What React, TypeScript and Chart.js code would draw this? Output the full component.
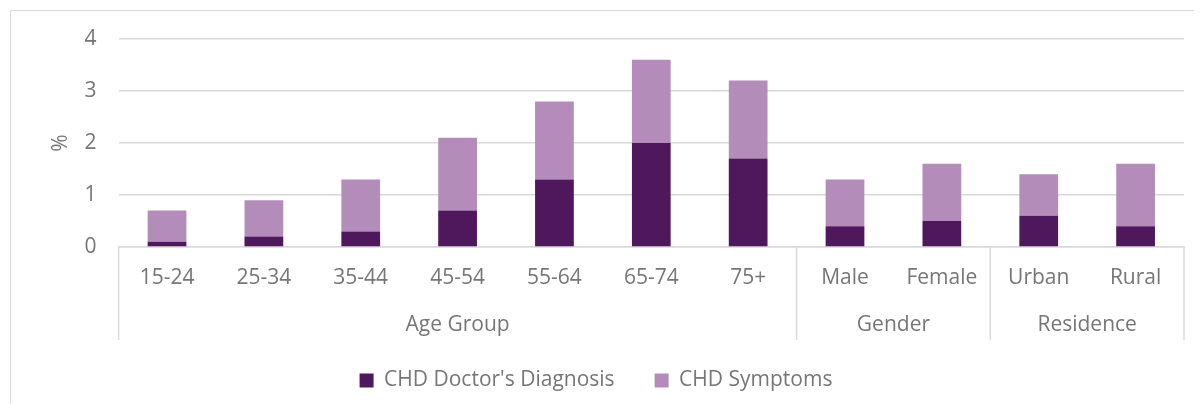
import React, { useEffect, useRef } from "react";
import { Chart, registerables } from "chart.js";

Chart.register(...registerables);

const categories = ["15-24", "25-34", "35-44", "45-54", "55-64", "65-74", "75+", "Male", "Female", "Urban", "Rural"];
const groupNames = ["Age Group", "Gender", "Residence"];
const groupSizes = [7, 2, 2];
const doctorDiagnosis = [0.1, 0.2, 0.3, 0.7, 1.3, 2.0, 1.7, 0.4, 0.5, 0.6, 0.4];
const symptoms = [0.6, 0.7, 1.0, 1.4, 1.5, 1.6, 1.5, 0.9, 1.1, 0.8, 1.2];
const yTicks = [0, 1, 2, 3, 4];

const TEXT = "#767676";
const LINE = "#d9d9d9";
const FONT = "'Open Sans', sans-serif";
const FS = 21;

const groupPlugin = {
  id: "groupAxis",
  afterDraw(chart: any) {
    const x = chart.scales.x;
    const ctx = chart.ctx;
    const axisY = chart.chartArea.bottom;
    const half = (x.getPixelForValue(1) - x.getPixelForValue(0)) / 2;
    ctx.save();
    ctx.strokeStyle = LINE;
    ctx.lineWidth = 1.5;
    ctx.fillStyle = TEXT;
    ctx.font = `${FS}px ${FONT}`;
    ctx.textAlign = "center";
    ctx.textBaseline = "middle";
    let start = 0;
    const lineBottom = axisY + 93;
    const drawSep = (px: number) => {
      ctx.beginPath();
      ctx.moveTo(px, axisY);
      ctx.lineTo(px, lineBottom);
      ctx.stroke();
    };
    drawSep(x.getPixelForValue(0) - half);
    groupSizes.forEach((size, gi) => {
      const left = x.getPixelForValue(start) - half;
      const right = x.getPixelForValue(start + size - 1) + half;
      drawSep(right);
      ctx.fillText(groupNames[gi], (left + right) / 2, axisY + 78);
      start += size;
    });
    ctx.restore();
  },
};

export default function App() {
  const ref = useRef<HTMLCanvasElement>(null);
  useEffect(() => {
    if (!ref.current) return;
    const chart = new Chart(ref.current, {
      type: "bar",
      data: {
        labels: categories,
        datasets: [
          {
            label: "CHD Doctor's Diagnosis",
            data: doctorDiagnosis,
            backgroundColor: "#4f175c",
            borderWidth: 0,
            barPercentage: 0.4,
            categoryPercentage: 1,
          },
          {
            label: "CHD Symptoms",
            data: symptoms,
            backgroundColor: "#b48cba",
            borderWidth: 0,
            barPercentage: 0.4,
            categoryPercentage: 1,
          },
        ],
      },
      plugins: [groupPlugin],
      options: {
        responsive: false,
        animation: false,
        layout: { padding: { left: 0, right: 10, top: 31, bottom: 3 } },
        plugins: {
          tooltip: { enabled: false },
          legend: {
            position: "bottom",
            labels: {
              color: TEXT,
              font: { family: FONT, size: FS },
              boxWidth: 14,
              boxHeight: 14,
              padding: 40,
            },
          },
        },
        scales: {
          x: {
            stacked: true,
            grid: { display: false, drawTicks: false },
            border: { display: true, color: LINE, width: 1.5 },
            ticks: { color: TEXT, font: { family: FONT, size: FS }, padding: 18, maxRotation: 0, autoSkip: false },
            afterFit: (s: any) => {
              s.height = 83;
            },
          },
          y: {
            stacked: true,
            min: 0,
            max: 4,
            afterBuildTicks: (s: any) => {
              s.ticks = yTicks.map((v) => ({ value: v }));
            },
            grid: { color: LINE, lineWidth: 1.5, drawTicks: false },
            border: { display: false },
            ticks: { color: TEXT, font: { family: FONT, size: FS }, padding: 22 },
            title: {
              display: true,
              text: "%",
              color: TEXT,
              font: { family: FONT, size: FS },
              padding: { top: 40, bottom: 0 },
            },
            afterFit: (s: any) => {
              s.width = 110.6;
              s.paddingTop = 12;
              s.paddingBottom = 12;
            },
          },
        },
      },
    });
    return () => chart.destroy();
  }, []);
  return (
    <div style={{ position: "relative", width: 1186, height: 396, overflow: "hidden" }}>
      <div
        style={{
          position: "absolute",
          left: 1.5,
          top: 1.5,
          width: 1400,
          height: 600,
          border: `1.5px solid ${LINE}`,
        }}
      />
      <canvas ref={ref} width={1186} height={396} style={{ position: "absolute", left: 0, top: 0 }} />
    </div>
  );
}
